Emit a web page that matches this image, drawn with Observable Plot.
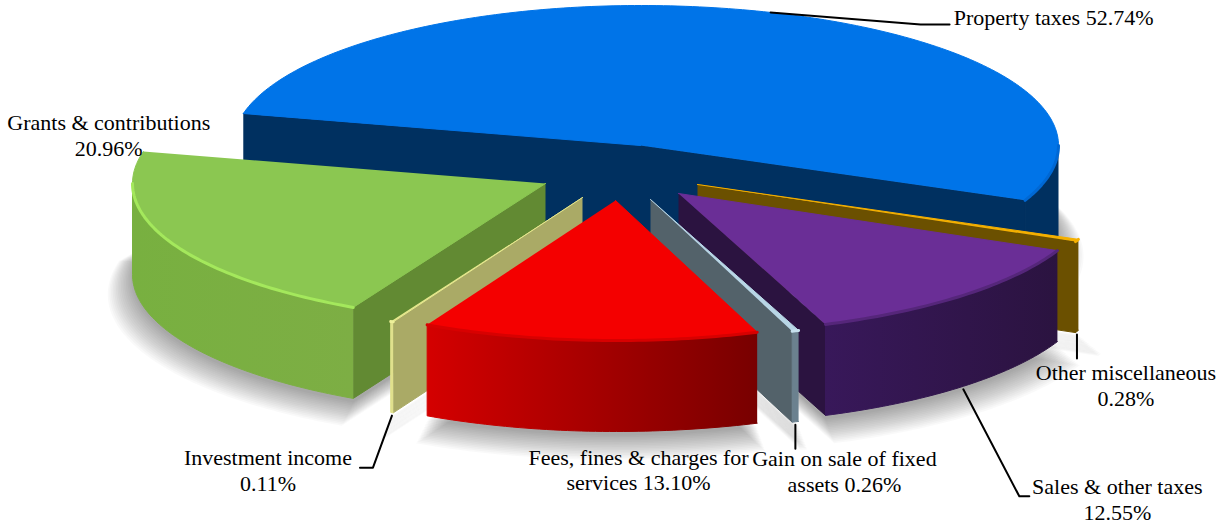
<!DOCTYPE html>
<html>
<head>
<meta charset="utf-8">
<script src="https://cdn.jsdelivr.net/npm/d3@7"></script>
<script src="https://cdn.jsdelivr.net/npm/@observablehq/plot@0.6"></script>
<style>html,body{margin:0;padding:0;background:#fff}svg{display:block}</style>
</head>
<body>
<div id="chart"></div>
<script>
// Data
const categories = ["Property taxes","Other miscellaneous","Sales & other taxes","Gain on sale of fixed assets","Fees, fines & charges for services","Investment income","Grants & contributions"];
const shares = [52.74,0.28,12.55,0.26,13.10,0.11,20.96];
const labels = ["Property taxes 52.74%","Other miscellaneous\n0.28%","Sales & other taxes\n12.55%","Gain on sale of fixed\nassets 0.26%","Fees, fines & charges for\nservices 13.10%","Investment income\n0.11%","Grants & contributions\n20.96%"];

// Styles
const topColors  = ["#0074e8","#f5b000","#6a2e96","#b8d6e6","#f40000","#e6e88e","#8bc751"];
const rimColors  = ["#0068d4","#f5b000","#55267a","#c6e0ee","#d80000","#eef09a","#a4e85c"];
const wallColors = ["#003060","#6b5000","#2b1340","#53626a","#8a0000","#aaaa66","#628a33"];
const arcWalls   = [["#003060","#003060"],["#6b5000","#6b5000"],["#38185a","#2b1340"],["#6b818f","#6b818f"],["#d40000","#780000"],["#e0e08c","#e0e08c"],["#78b040","#7dae44"]];

// Layout of the exploded pie (screen apex of each slice, ellipse radii, extrusion)
const apexX = [640,697,678,650,615,582,545];
const apexY = [145,184,193,199,200,197,183];
const rxRight = [418,414,415,418,418,418,418];
const rxLeft  = [408,418,418,418,410,412,413];
const ry = 140, depth = 91;
const startDeg = -76.8;
const paintOrder = [0,1,2,3,6,5,4];

// Label text positions and leader shapes, relative to each slice's rim anchor
const anchorOnTop = [true,false,false,false,false,false,false];
const hasLeader   = [true,true,true,true,false,true,false];
const labelOffset = [[283,4],[49,50],[154,109],[49,46],[50,35],[-124,54],[-61,-201]];
const leaderBends = [[[150,12],[179,12]],[[0,24]],[[56,107],[66,107]],[[0,24]],[],[[-19,52],[-32,52]],[]];

const W = 1228, H = 527;
const rad = Math.PI / 180;
const arcs = d3.pie().sort(null).value(d => d)
  .startAngle(startDeg * rad).endAngle((startDeg + 360) * rad)(shares);

const pt = (i, t, z = 0, r = 1) => {
  const s = Math.sin(t);
  return {x: apexX[i] + (s < 0 ? rxLeft[i] : rxRight[i]) * r * s, y: apexY[i] - ry * r * Math.cos(t) + z};
};
const samples = (a, b) => {
  const n = Math.max(2, Math.ceil((b - a) / rad));
  return d3.range(n + 1).map(k => a + (b - a) * k / n);
};
// The front part of an arc (90deg to 270deg from the top, clockwise)
const frontArc = (a, b) => {
  const lo = Math.max(a, 90 * rad), hi = Math.min(b, 270 * rad);
  return hi > lo ? samples(lo, hi) : [];
};

const poly = (pts, fill) => Plot.line(pts, {x: "x", y: "y", fill, stroke: fill, strokeWidth: 1, curve: "linear", strokeLinejoin: "round"});

const defs = () => {
  const g = document.createElementNS("http://www.w3.org/2000/svg", "g");
  g.innerHTML = `<defs>
    ${arcWalls.map((c, i) => `<linearGradient id="wall${i}" x1="0" x2="1" y1="0" y2="0"><stop offset="0" stop-color="${c[0]}"/><stop offset="1" stop-color="${c[1]}"/></linearGradient>`).join("")}
  </defs>`;
  return g;
};

// Soft drop shadow: stacked translucent copies of the slice bases
const shadowLayers = d3.range(16);
const shadowPts = shadowLayers.flatMap(k => arcs.flatMap((d, i) => {
  const r = 1.06 - 0.06 * k / 15, z = depth + 20 - 16 * k / 15, key = `${k}-${i}`;
  return [{...pt(i, 0, z, 0), key}, ...samples(d.startAngle, d.endAngle).map(t => ({...pt(i, t, z, r), key}))];
}));

const sliceMarks = paintOrder.flatMap(i => {
  const d = arcs[i], a = d.startAngle, b = d.endAngle, marks = [];
  const showA = Math.sin(a) < 0, showB = Math.sin(b) > 0;
  const apex = pt(i, 0, 0, 0), apexLow = pt(i, 0, depth, 0);
  if (showA && showB) marks.push(poly([pt(i, a), apex, pt(i, b), pt(i, b, depth), apexLow, pt(i, a, depth)], wallColors[i]));
  else if (showA) marks.push(poly([apex, pt(i, a), pt(i, a, depth), apexLow], wallColors[i]));
  else if (showB) marks.push(poly([apex, pt(i, b), pt(i, b, depth), apexLow], wallColors[i]));
  const front = frontArc(a, b);
  if (front.length) marks.push(poly([...front.map(t => pt(i, t)), ...front.slice().reverse().map(t => pt(i, t, depth))], `url(#wall${i})`));
  marks.push(poly([apex, ...samples(a, b).map(t => pt(i, t))], topColors[i]));
  if (front.length) marks.push(Plot.line(front.map(t => pt(i, t)), {x: "x", y: "y", stroke: rimColors[i], strokeWidth: 3, curve: "linear"}));
  return marks;
});

const anchors = arcs.map((d, i) => {
  const t = (d.startAngle + d.endAngle) / 2;
  return pt(i, t, anchorOnTop[i] ? 0 : depth + 3);
});
const leaderPts = anchors.flatMap((p, i) => hasLeader[i]
  ? [p, ...leaderBends[i].map(o => ({x: p.x + o[0], y: p.y + o[1]}))].map(q => ({...q, i}))
  : []);
const labelRows = labels.map((text, i) => ({text, x: anchors[i].x + labelOffset[i][0], y: anchors[i].y + labelOffset[i][1]}));

const plot = Plot.plot({
  width: W, height: H,
  margin: 0,
  x: {domain: [0, W], range: [0, W], axis: null},
  y: {domain: [0, H], range: [0, H], axis: null},
  style: {background: "#fff", overflow: "visible"},
  marks: [
    defs,
    Plot.line(shadowPts, {x: "x", y: "y", z: "key", fill: "#000", fillOpacity: 0.022, stroke: "none", curve: "linear"}),
    ...sliceMarks,
    Plot.line(leaderPts, {x: "x", y: "y", z: "i", stroke: "#000", strokeWidth: 2, curve: "linear"}),
    Plot.text(labelRows, {x: "x", y: "y", text: "text", fontFamily: "Liberation Serif", fontSize: 22, fill: "#000", textAnchor: "middle", lineAnchor: "middle", lineHeight: 1.18})
  ]
});
document.getElementById("chart").appendChild(plot);
</script>
</body>
</html>
